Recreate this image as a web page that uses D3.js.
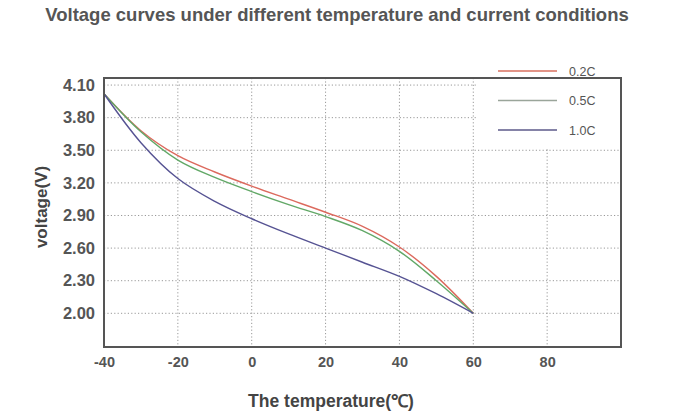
<!DOCTYPE html>
<html>
<head>
<meta charset="utf-8">
<script src="https://cdn.jsdelivr.net/npm/d3@7"></script>
<style>
  body { margin: 0; background: #fff; }
  text { font-family: "Liberation Sans", Arial, sans-serif; }
</style>
</head>
<body>
<div id="chart"></div>
<script>
var temps = [-40, -30, -20, -10, 0, 10, 20, 30, 40, 50, 60];
var v02 = [4.02, 3.68, 3.45, 3.30, 3.17, 3.05, 2.93, 2.80, 2.61, 2.34, 2.00];
var v05 = [4.02, 3.67, 3.41, 3.25, 3.12, 3.00, 2.89, 2.76, 2.57, 2.30, 2.00];
var v10 = [4.02, 3.57, 3.24, 3.03, 2.87, 2.73, 2.60, 2.47, 2.34, 2.18, 2.00];
var seriesNames = ['0.2C', '0.5C', '1.0C'];
var colors = ['#dc6a5e', '#62a867', '#565393'];
var legendColors = ['#d9705f', '#9aa59a', '#5c5a8a'];
var xTicks = [-40, -20, 0, 20, 40, 60, 80];
var yTicks = [2.00, 2.30, 2.60, 2.90, 3.20, 3.50, 3.80, 4.10];

var W = 674, H = 418;
var margin = { left: 104, right: 53, top: 78, bottom: 71 };
var svg = d3.select('#chart').append('svg').attr('width', W).attr('height', H);

var x = d3.scaleLinear().domain([-40, 100]).range([margin.left, W - margin.right]);
var y = d3.scaleLinear().domain([1.69, 4.165]).range([H - margin.bottom, margin.top]);

svg.append('text')
    .attr('x', 337).attr('y', 21)
    .attr('text-anchor', 'middle')
    .style('font-size', '18.5px').style('font-weight', 'bold')
    .style('fill', '#555')
    .text('Voltage curves under different temperature and current conditions');

// grid
var grid = svg.append('g').attr('stroke', '#999').attr('stroke-dasharray', '1.2,2.2').attr('stroke-width', 1);
grid.selectAll('line.h').data(yTicks).enter().append('line')
    .attr('x1', x(-40)).attr('x2', x(100))
    .attr('y1', function(d) { return y(d); }).attr('y2', function(d) { return y(d); });
grid.selectAll('line.v').data(xTicks.slice(1)).enter().append('line')
    .attr('x1', function(d) { return x(d); }).attr('x2', function(d) { return x(d); })
    .attr('y1', y(4.165)).attr('y2', y(1.69));

// lines
var allSeries = [v02, v05, v10];
var line = d3.line()
    .x(function(d, i) { return x(temps[i]); })
    .y(function(d) { return y(d); })
    .curve(d3.curveCatmullRom.alpha(0.5));
svg.selectAll('path.series').data(allSeries).enter().append('path')
    .attr('class', 'series')
    .attr('fill', 'none')
    .attr('stroke', function(d, i) { return colors[i]; })
    .attr('stroke-width', 1.4)
    .attr('d', line);

// legend
var lg = svg.append('g');
lg.append('rect').attr('x', 477).attr('y', y(4.165) + 1).attr('width', W - margin.right - 478).attr('height', 70).attr('fill', '#fff');
seriesNames.forEach(function(name, i) {
    var ly = 71 + i * 29.5;
    lg.append('line').attr('x1', 498).attr('x2', 557).attr('y1', ly).attr('y2', ly)
        .attr('stroke', legendColors[i]).attr('stroke-width', 1.4);
    lg.append('text').attr('x', 569).attr('y', ly + 4.5)
        .style('font-size', '12.5px').style('fill', '#555').text(name);
});

// frame
svg.append('rect')
    .attr('x', x(-40)).attr('y', y(4.165))
    .attr('width', x(100) - x(-40)).attr('height', y(1.69) - y(4.165))
    .attr('fill', 'none').attr('stroke', '#555').attr('stroke-width', 2);

// axes
var yAxis = d3.axisLeft(y).tickValues(yTicks).tickSize(0).tickPadding(9).tickFormat(d3.format('.2f'));
svg.append('g').attr('transform', 'translate(' + x(-40) + ',0)').call(yAxis)
    .call(function(g) { g.select('.domain').remove(); })
    .selectAll('text').style('font-size', '16.5px').style('font-weight', 'bold').style('fill', '#555')
    .style('font-family', '"Liberation Sans", Arial, sans-serif');

var xAxis = d3.axisBottom(x).tickValues(xTicks).tickSize(0).tickPadding(10)
    .tickFormat(function(d) { return String(d); });
svg.append('g').attr('transform', 'translate(0,' + y(1.69) + ')').call(xAxis)
    .call(function(g) { g.select('.domain').remove(); })
    .selectAll('text').style('font-size', '14.5px').style('font-weight', 'bold').style('fill', '#555')
    .style('font-family', '"Liberation Sans", Arial, sans-serif');

svg.append('text')
    .attr('x', 331).attr('y', 407)
    .attr('text-anchor', 'middle')
    .style('font-size', '17.5px').style('font-weight', 'bold').style('fill', '#444')
    .text('The temperature(\u2103)');

svg.append('text')
    .attr('transform', 'translate(47,' + 207 + ') rotate(-90)')
    .attr('text-anchor', 'middle')
    .style('font-size', '17px').style('font-weight', 'bold').style('fill', '#444')
    .text('voltage(V)');
</script>
</body>
</html>
